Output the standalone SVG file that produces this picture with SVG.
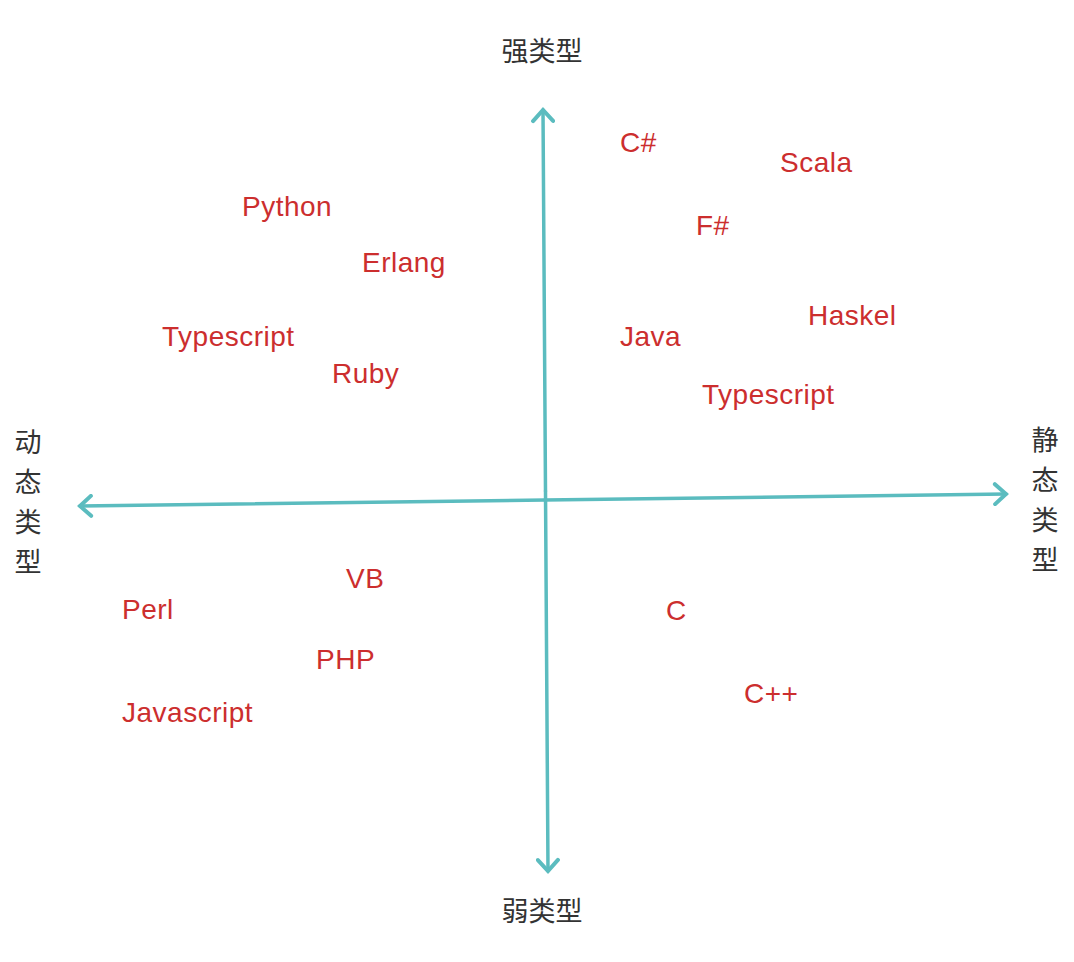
<svg xmlns="http://www.w3.org/2000/svg" width="1074" height="962" viewBox="0 0 1074 962">
  <style>
    .axis { stroke: #5bbcbf; stroke-width: 3.5; fill: none; stroke-linecap: round; }
    .cat { font-family: "Noto Sans CJK SC", "Noto Sans", sans-serif; font-size: 27px; fill: #333333; text-anchor: middle; }
    .lang { font-family: "Liberation Sans", Arial, "Noto Sans", sans-serif; font-size: 28px; letter-spacing: 0.5px; fill: #cc2e2e; }
  </style>
  <defs>
    <marker id="arrow" viewBox="-14 -12 18 24" markerWidth="18" markerHeight="24" refX="0" refY="0" orient="auto" markerUnits="userSpaceOnUse">
      <path d="M -11 -10 L 0 0 L -11 10" fill="none" stroke="#5bbcbf" stroke-width="4" stroke-linecap="round" stroke-linejoin="miter"/>
    </marker>
  </defs>
  <rect width="1074" height="962" fill="#ffffff"/>

  <g id="connectors">
    <line class="axis" x1="545.5" y1="491" x2="543" y2="110" marker-end="url(#arrow)"/>
    <line class="axis" x1="545.5" y1="491" x2="548" y2="871" marker-end="url(#arrow)"/>
    <line class="axis" x1="545" y1="500" x2="80" y2="506" marker-end="url(#arrow)"/>
    <line class="axis" x1="545" y1="500" x2="1006" y2="494" marker-end="url(#arrow)"/>
  </g>

  <g id="label-strong"><text class="cat" x="542" y="61">强类型</text></g>
  <g id="label-weak"><text class="cat" x="542" y="921">弱类型</text></g>
  <g id="label-dynamic">
    <text class="cat" x="28" y="452">动</text>
    <text class="cat" x="28" y="492">态</text>
    <text class="cat" x="28" y="532">类</text>
    <text class="cat" x="28" y="572">型</text>
  </g>
  <g id="label-static">
    <text class="cat" x="1045" y="450">静</text>
    <text class="cat" x="1045" y="490">态</text>
    <text class="cat" x="1045" y="530">类</text>
    <text class="cat" x="1045" y="570">型</text>
  </g>

  <g id="lang-python"><text class="lang" x="242" y="216">Python</text></g>
  <g id="lang-erlang"><text class="lang" x="362" y="272">Erlang</text></g>
  <g id="lang-typescript-left"><text class="lang" x="162" y="346">Typescript</text></g>
  <g id="lang-ruby"><text class="lang" x="332" y="383">Ruby</text></g>

  <g id="lang-csharp"><text class="lang" x="620" y="152">C#</text></g>
  <g id="lang-scala"><text class="lang" x="780" y="172">Scala</text></g>
  <g id="lang-fsharp"><text class="lang" x="696" y="235">F#</text></g>
  <g id="lang-haskel"><text class="lang" x="808" y="325">Haskel</text></g>
  <g id="lang-java"><text class="lang" x="620" y="346">Java</text></g>
  <g id="lang-typescript-right"><text class="lang" x="702" y="404">Typescript</text></g>

  <g id="lang-vb"><text class="lang" x="346" y="588">VB</text></g>
  <g id="lang-perl"><text class="lang" x="122" y="619">Perl</text></g>
  <g id="lang-php"><text class="lang" x="316" y="669">PHP</text></g>
  <g id="lang-javascript"><text class="lang" x="122" y="722">Javascript</text></g>

  <g id="lang-c"><text class="lang" x="666" y="620">C</text></g>
  <g id="lang-cpp"><text class="lang" x="744" y="703">C++</text></g>
</svg>
